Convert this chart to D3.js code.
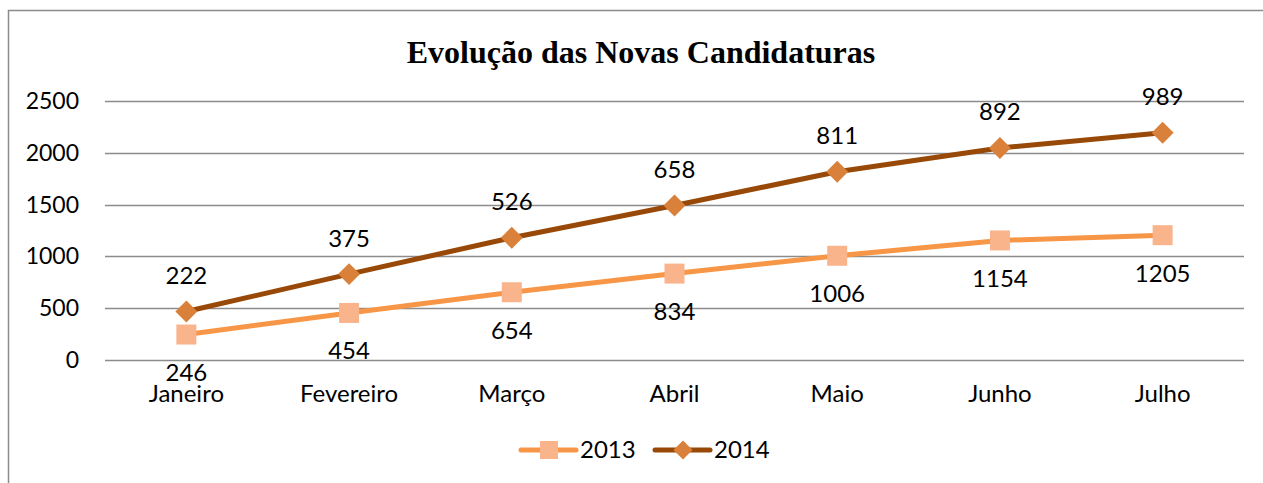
<!DOCTYPE html>
<html>
<head>
<meta charset="utf-8">
<script src="https://cdn.jsdelivr.net/npm/d3@7"></script>
<style>
  body { margin: 0; background: #fff; }
  svg text { font-family: Lato, "Open Sans", sans-serif; }
</style>
</head>
<body>
<div id="chart"></div>
<script>
// data (2014 is stacked on top of 2013)
const months = ["Janeiro", "Fevereiro", "Março", "Abril", "Maio", "Junho", "Julho"];
const values2013 = [246, 454, 654, 834, 1006, 1154, 1205];
const values2014 = [222, 375, 526, 658, 811, 892, 989];
const yTicks = [0, 500, 1000, 1500, 2000, 2500];
const seriesNames = ["2013", "2014"];

const width = 1263, height = 483;
const margin = { top: 101, right: 19, bottom: 123, left: 105 };

const svg = d3.select("#chart").append("svg")
  .attr("width", width)
  .attr("height", height);

// chart frame (only top/left edges visible in the crop)
svg.append("path")
  .attr("d", `M8.5,${height} V10.5 H${width}`)
  .attr("fill", "none")
  .attr("stroke", "#8c8c8c")
  .attr("stroke-width", 1.5);

svg.append("text")
  .attr("x", 641)
  .attr("y", 63)
  .attr("text-anchor", "middle")
  .style("font-family", "'Liberation Serif', 'Times New Roman', serif")
  .style("font-weight", "bold")
  .style("font-size", "32px")
  .text("Evolução das Novas Candidaturas");

const x = d3.scaleBand()
  .domain(months)
  .range([margin.left, width - margin.right]);

const y = d3.scaleLinear()
  .domain([0, 2500])
  .range([height - margin.bottom, margin.top]);

// gridlines
svg.append("g")
  .selectAll("line")
  .data(yTicks)
  .join("line")
  .attr("x1", margin.left)
  .attr("x2", width - margin.right)
  .attr("y1", d => Math.round(y(d)) + 0.5)
  .attr("y2", d => Math.round(y(d)) + 0.5)
  .attr("stroke", "#8c8c8c")
  .attr("stroke-width", 1.5);

// y labels
svg.append("g")
  .selectAll("text")
  .data(yTicks)
  .join("text")
  .attr("x", 79)
  .attr("y", d => y(d))
  .attr("dy", "0.35em")
  .attr("text-anchor", "end")
  .style("font-size", "23px")
  .text(d => d);

// x labels
svg.append("g")
  .selectAll("text")
  .data(months)
  .join("text")
  .attr("x", d => x(d) + x.bandwidth() / 2)
  .attr("y", 402)
  .attr("text-anchor", "middle")
  .style("font-size", "24px")
  .text(d => d);

const cx = d => x(d) + x.bandwidth() / 2;

const rows = months.map((m, i) => ({
  month: m,
  v13: values2013[i],
  v14: values2014[i],
  s13: values2013[i],
  s14: values2013[i] + values2014[i]
}));

const line13 = d3.line().x(d => cx(d.month)).y(d => y(d.s13));
const line14 = d3.line().x(d => cx(d.month)).y(d => y(d.s14));

svg.append("path")
  .datum(rows)
  .attr("d", line13)
  .attr("fill", "none")
  .attr("stroke", "#f79646")
  .attr("stroke-width", 5)
  .attr("stroke-linejoin", "round");

svg.append("path")
  .datum(rows)
  .attr("d", line14)
  .attr("fill", "none")
  .attr("stroke", "#984807")
  .attr("stroke-width", 5)
  .attr("stroke-linejoin", "round");

svg.append("g")
  .selectAll("path")
  .data(rows)
  .join("path")
  .attr("transform", d => `translate(${cx(d.month)},${y(d.s13)})`)
  .attr("d", d3.symbol().type(d3.symbolSquare).size(400))
  .attr("fill", "#f9b48c");

svg.append("g")
  .selectAll("path")
  .data(rows)
  .join("path")
  .attr("transform", d => `translate(${cx(d.month)},${y(d.s14)}) rotate(45)`)
  .attr("d", d3.symbol().type(d3.symbolSquare).size(240))
  .attr("fill", "#d9803a");

// data labels
svg.append("g")
  .selectAll("text")
  .data(rows)
  .join("text")
  .attr("x", d => cx(d.month))
  .attr("y", d => y(d.s13) + 38)
  .attr("dy", "0.35em")
  .attr("text-anchor", "middle")
  .style("font-size", "24px")
  .text(d => d.v13);

svg.append("g")
  .selectAll("text")
  .data(rows)
  .join("text")
  .attr("x", d => cx(d.month))
  .attr("y", d => y(d.s14) - 36)
  .attr("dy", "0.35em")
  .attr("text-anchor", "middle")
  .style("font-size", "24px")
  .text(d => d.v14);

// legend
const legend = svg.append("g").attr("transform", "translate(0,450)");
const legendItems = [
  { name: seriesNames[0], x: 521, stroke: "#f79646", fill: "#f9b48c", sym: "square" },
  { name: seriesNames[1], x: 655, stroke: "#984807", fill: "#d9803a", sym: "diamond" }
];
legendItems.forEach(it => {
  legend.append("line")
    .attr("x1", it.x).attr("x2", it.x + 55)
    .attr("stroke", it.stroke)
    .attr("stroke-width", 5)
    .attr("stroke-linecap", "round");
  legend.append("path")
    .attr("transform", `translate(${it.x + 28},0)` + (it.sym === "diamond" ? " rotate(45)" : ""))
    .attr("d", d3.symbol().type(d3.symbolSquare).size(it.sym === "diamond" ? 180 : 324))
    .attr("fill", it.fill);
  legend.append("text")
    .attr("x", it.x + 59)
    .attr("dy", "0.35em")
    .style("font-size", "24px")
    .text(it.name);
});
</script>
</body>
</html>
